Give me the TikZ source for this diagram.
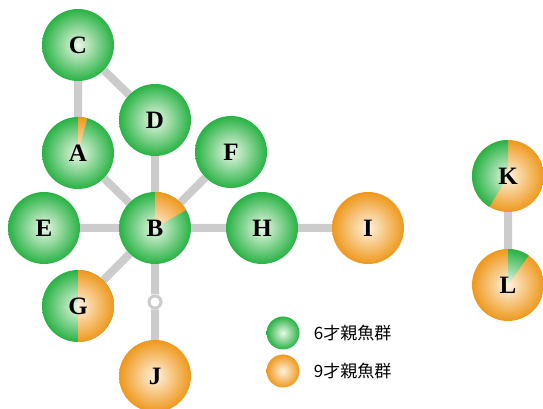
\documentclass[tikz,border=0pt]{standalone}
\usepackage{fontspec}
\setmainfont{Liberation Serif}
\newfontfamily\jpfont{Noto Sans CJK JP}
\usetikzlibrary{positioning,backgrounds}
\definecolor{fishgreen}{RGB}{40,178,68}
\definecolor{fishgreenin}{RGB}{236,248,232}
\definecolor{fishorange}{RGB}{238,152,28}
\definecolor{fishorangein}{RGB}{255,242,224}
\tikzset{ball/.style={circle, minimum size=72pt, inner sep=0pt, font=\bfseries\fontsize{25}{25}\selectfont},
  six/.style={ball, inner color=fishgreenin, outer color=fishgreen},
  nine/.style={ball, inner color=fishorangein, outer color=fishorange},
  part/.style n args={4}{path picture={\clip (path picture bounding box.center) -- ++(#1:40pt) arc[start angle=#1, end angle=#2, radius=40pt] -- cycle; \shade[inner color=#3, outer color=#4] (path picture bounding box.center) circle (36pt);}},
  link/.style={line width=8pt, draw=black!20},
  legtext/.style={inner sep=0pt, font=\jpfont\fontsize{17}{17}\selectfont}}

\begin{document}
\begin{tikzpicture}[x=1pt, y=1pt]
      \useasboundingbox (0,0) rectangle (543,409);
      \node[six, part={90}{30}{fishorangein}{fishorange}] (B) at (155,181) {B};
      \node[six, right of=B, node distance=107pt] (H) {H};
      \node[nine, right of=H, node distance=106pt] (I) {I};
      \node[six, left of=B, node distance=111pt] (E) {E};
      \node[six, above of=B, node distance=108pt] (D) {D};
      \node[six, right of=D, node distance=76pt, yshift=-32pt] (F) {F};
      \node[six, part={90}{75}{fishorangein}{fishorange}] (A) at (78,256) {A};
      \node[six, above of=A, node distance=108pt] (C) {C};
      \node[six, part={90}{-90}{fishorangein}{fishorange}] (G) at (78,103) {G};
      \node[circle, draw=black!20, line width=3pt, fill=white, minimum size=12pt, inner sep=0pt, below of=B, node distance=74pt] (hub) {};
      \node[nine, below of=B, node distance=148pt] (J) {J};
      \node[nine, part={90}{239}{fishgreenin}{fishgreen}] (K) at (508,233) {K};
      \node[nine, part={90}{55}{fishgreenin}{fishgreen}, below of=K, node distance=109pt] (L) {L};
      \node[six, minimum size=33pt] (leg6) at (283,76) {};
      \node[nine, minimum size=33pt, below of=leg6, node distance=38pt] (leg9) {};
      \node[legtext, right=14pt of leg6] (txt6) {6才親魚群};
      \node[legtext, right=14pt of leg9] (txt9) {9才親魚群};
      \begin{scope}[on background layer]
      \draw[link] (C) -- (A) (C) -- (D) (A) -- (B) (D) -- (B) (F) -- (B) (E) -- (B) (B) -- (H) (H) -- (I) (B) -- (G) (B) -- (hub) (hub) -- (J) (K) -- (L);
      \end{scope}
    \end{tikzpicture}
\end{document}
